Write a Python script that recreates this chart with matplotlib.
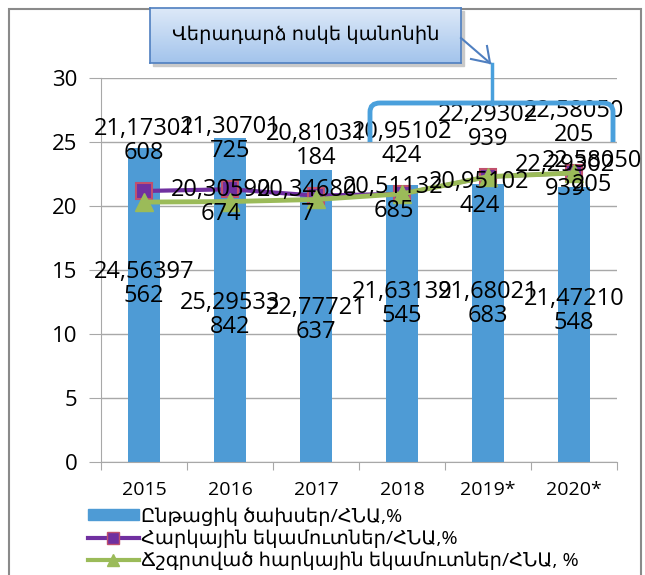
import numpy as np
import matplotlib
matplotlib.use('Agg')
import matplotlib.pyplot as plt
from matplotlib.colors import LinearSegmentedColormap
from matplotlib.lines import Line2D
from matplotlib.patches import Rectangle, PathPatch
from matplotlib.path import Path

plt.rcParams['font.family'] = ['Open Sans', 'DejaVu Sans']

#--- data
years = ['2015', '2016', '2017', '2018', '2019*', '2020*']
current_spending = [24.56397562, 25.29533842, 22.77721637, 21.63139545, 21.68021683, 21.47210548]
tax_revenue = [21.17301608, 21.30701725, 20.81031184, 20.95102424, 22.29302939, 22.58050205]
adjusted_tax_revenue = [20.30590674, 20.346807, 20.51132685, 20.95102424, 22.29302939, 22.58050205]

legend_labels = ['Ընթացիկ ծախսեր/ՀՆԱ,%',
                 'Հարկային եկամուտներ/ՀՆԱ,%',
                 'Ճշգրտված հարկային եկամուտներ/ՀՆԱ, %']
callout_text = 'Վերադարձ ոսկե կանոնին'

#--- layout (pixels of a 645x575 canvas)
W, H = 645, 575
bar_color = '#4e9bd5'
purple = '#7030a0'
green = '#9bbb59'
grid_color = '#a8a8a8'
bar_label_nudge = [15, -11, -3, 14, 14, 10]   # points, hand-moved labels


def fx(px):
    return px / W


def fy(py):
    return 1 - py / H


def fmt(v):
    s = str(v).replace('.', ',')
    return s[:8] + '\n' + s[8:] if len(s) > 8 else s


fig = plt.figure(figsize=(W / 100, H / 100), dpi=100)
ax = fig.add_axes([fx(101), fy(462), fx(617) - fx(101), fy(78) - fy(462)])

x = np.arange(len(years))
ax.bar(x, current_spending, width=0.37, color=bar_color, zorder=2)
ax.plot(x, tax_revenue, color=purple, lw=3, marker='s', ms=11,
        mfc=purple, mec='#c0506d', mew=1.5, zorder=3)
ax.plot(x, adjusted_tax_revenue, color=green, lw=3.5, marker='^', ms=13,
        mfc=green, mec=green, zorder=4)

ax.set_xlim(-0.5, len(years) - 0.5)
ax.set_ylim(0, 30)
ax.set_yticks(np.arange(0, 31, 5))
ax.yaxis.grid(True, color=grid_color, lw=1)
ax.set_axisbelow(True)

ax.set_xticks(np.arange(-0.5, len(years), 1))
ax.set_xticklabels([])
ax.set_xticks(x, minor=True)
ax.set_xticklabels(years, minor=True)
ax.tick_params(axis='x', which='major', length=6, color=grid_color, direction='out')
ax.tick_params(axis='x', which='minor', length=0, pad=14, labelsize=14)
ax.tick_params(axis='y', length=9, color=grid_color, pad=8, labelsize=16)
for side in ['top', 'right']:
    ax.spines[side].set_visible(False)
for side in ['left', 'bottom']:
    ax.spines[side].set_color(grid_color)

#--- data labels
for i, v in enumerate(current_spending):
    ax.annotate(fmt(v), (i, v / 2), xytext=(0, bar_label_nudge[i]), textcoords='offset points',
                ha='center', va='center', fontsize=17, linespacing=1.0, zorder=6)
for i, v in enumerate(tax_revenue):
    ax.annotate(fmt(v), (i, v), xytext=(0, 36), textcoords='offset points',
                ha='center', va='center', fontsize=17, linespacing=1.0, zorder=6,
                annotation_clip=False)
for i, v in enumerate(adjusted_tax_revenue):
    ax.text(min(i + 0.9, 5.21), v, fmt(v), ha='center', va='center', fontsize=17,
            linespacing=1.0, zorder=6, clip_on=False)

#--- legend
handles = [Rectangle((0, 0), 1, 1, color=bar_color),
           Line2D([], [], color=purple, lw=3, marker='s', ms=8, mfc=purple, mec='#c0506d'),
           Line2D([], [], color=green, lw=3, marker='^', ms=9, mfc=green, mec=green)]
fig.legend(handles, legend_labels, loc='upper left', bbox_to_anchor=(fx(88), fy(507)),
           frameon=False, fontsize=14, handlelength=2.6, handleheight=0.5,
           handletextpad=0.15, labelspacing=0.2, borderpad=0, borderaxespad=0)

#--- chart frame
fig.add_artist(Rectangle((fx(9), -0.1), fx(641) - fx(9), fy(9) + 0.1, fill=False,
                         ec='#8a8a8a', lw=1.5, transform=fig.transFigure, zorder=-2))

#--- bracket over 2018-2020
bracket = Path([(fx(370), fy(142)), (fx(370), fy(112)), (fx(370), fy(103)), (fx(380), fy(103)),
                (fx(603), fy(103)), (fx(613), fy(103)), (fx(613), fy(112)), (fx(613), fy(142))],
               [Path.MOVETO, Path.LINETO, Path.CURVE3, Path.CURVE3,
                Path.LINETO, Path.CURVE3, Path.CURVE3, Path.LINETO])
fig.add_artist(PathPatch(bracket, fill=False, ec='#4aa0dc', lw=3.5,
                         transform=fig.transFigure, zorder=1))
fig.add_artist(Line2D([fx(492), fx(492)], [fy(104), fy(64)], color='#4aa0dc', lw=2.5, zorder=1))

#--- callout box
fig.add_artist(Rectangle((fx(153), fy(66)), fx(311), 55 / H, color='#c9c9c9',
                         transform=fig.transFigure, zorder=-1))
ax_c = fig.add_axes([fx(150), fy(63), fx(311), 55 / H])
ax_c.set_zorder(5)
cmap = LinearSegmentedColormap.from_list('box', ['#a3c4ec', '#dde9f8'])
ax_c.imshow(np.linspace(0, 1, 100).reshape(-1, 1), cmap=cmap, aspect='auto',
            extent=[0, 1, 0, 1], origin='lower')
ax_c.set_xticks([])
ax_c.set_yticks([])
for s in ax_c.spines.values():
    s.set_color('#4f7fc0')
    s.set_linewidth(1.2)
ax_c.text(0.5, 0.52, callout_text, ha='center', va='center', fontsize=14,
          transform=ax_c.transAxes)
tip = (fx(490), fy(63))
for start in [(461, 38), (471, 59), (487, 46)]:
    fig.add_artist(Line2D([fx(start[0]), tip[0]], [fy(start[1]), tip[1]],
                          color='#4f7fc0', lw=1.5, zorder=6))

fig.savefig('out.png', dpi=100)
